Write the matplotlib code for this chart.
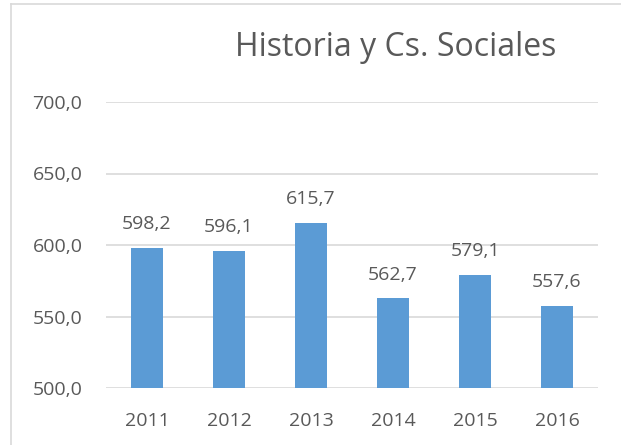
import matplotlib.pyplot as plt
from matplotlib.lines import Line2D

years = ['2011', '2012', '2013', '2014', '2015', '2016']
scores = [598.2, 596.1, 615.7, 562.7, 579.1, 557.6]
yticks = [500, 550, 600, 650, 700]

plt.rcParams['font.family'] = ['Open Sans', 'DejaVu Sans']
txt = '#595959'

fig = plt.figure(figsize=(6.21, 4.45), dpi=100)
ax = fig.add_axes([106 / 621, 1 - 388 / 445, 492 / 621, 286 / 445])

x = range(len(years))
ax.bar(x, scores, width=0.4, color='#5B9BD5', zorder=3)
for xi, v in zip(x, scores):
    ax.annotate(f'{v:.1f}'.replace('.', ','), (xi, v), xytext=(0, 10.5),
                textcoords='offset points', ha='center', va='bottom',
                fontsize=14, color=txt)

ax.set_xlim(-0.5, len(years) - 0.5)
ax.set_ylim(500, 700)
ax.set_yticks(yticks)
ax.set_yticklabels([f'{t:.1f}'.replace('.', ',') for t in yticks])
ax.set_xticks(list(x))
ax.set_xticklabels(years)
ax.tick_params(axis='both', length=0, labelsize=14, colors=txt)
ax.tick_params(axis='x', pad=17)
ax.tick_params(axis='y', pad=17)
ax.grid(axis='y', color='#D9D9D9', linewidth=1.2, zorder=0)
for s in ax.spines.values():
    s.set_visible(False)

fig.text(396 / 621, 1 - 56 / 445, 'Historia y Cs. Sociales', ha='center',
         va='baseline', fontsize=23, color=txt)

# chart border (only top and left visible in the crop)
fig.add_artist(Line2D([11 / 621, 11 / 621], [0, 1 - 4 / 445], color='#D9D9D9', linewidth=1.2))
fig.add_artist(Line2D([11 / 621, 1], [1 - 4 / 445, 1 - 4 / 445], color='#D9D9D9', linewidth=1.2))

fig.savefig('out.png', dpi=100)
